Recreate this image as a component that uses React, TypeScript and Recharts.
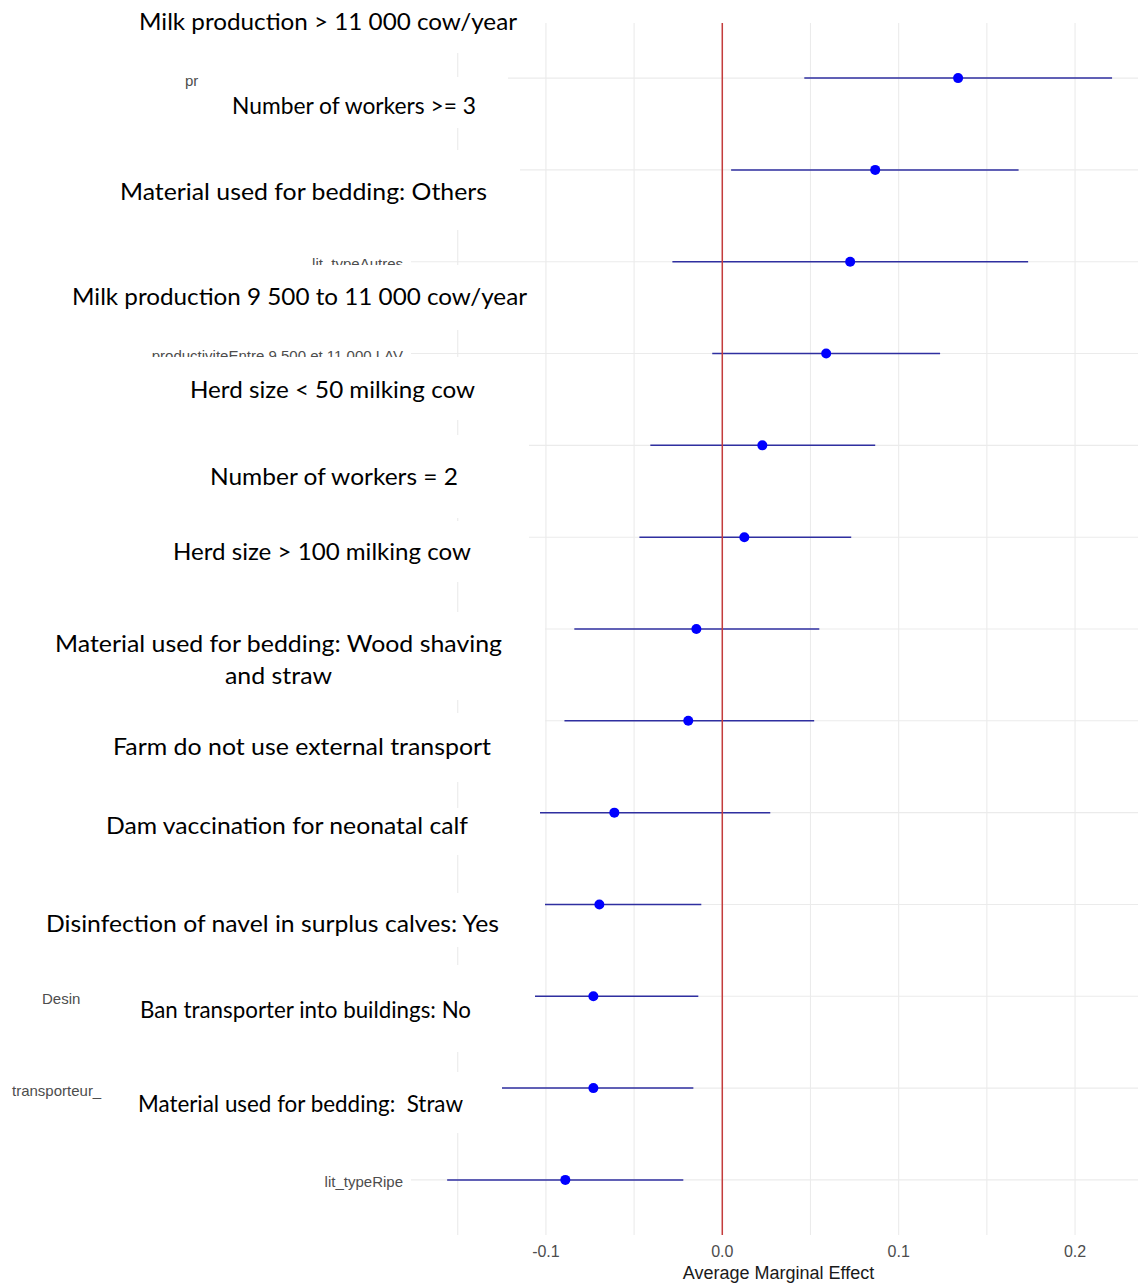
import React from 'react';
import { ScatterChart, Scatter, XAxis, YAxis, CartesianGrid, ReferenceLine, ErrorBar, Label } from 'recharts';

// ---- data ----
const labels = [
  'Milk production > 11 000 cow/year',
  'Number of workers >= 3',
  'Material used for bedding: Others',
  'Milk production 9 500 to 11 000 cow/year',
  'Herd size < 50 milking cow',
  'Number of workers = 2',
  'Herd size > 100 milking cow',
  'Material used for bedding: Wood shaving\nand straw',
  'Farm do not use external transport',
  'Dam vaccination for neonatal calf',
  'Disinfection of navel in surplus calves: Yes',
  'Ban transporter into buildings: No',
  'Material used for bedding:  Straw',
];
const estimates = [0.1337, 0.0867, 0.0725, 0.0589, 0.0227, 0.0125, -0.0147, -0.0193, -0.0612, -0.0697, -0.0731, -0.0731, -0.089];
const lower = [0.0465, 0.005, -0.0283, -0.0057, -0.0408, -0.047, -0.0839, -0.0895, -0.106, -0.1014, -0.1093, -0.128, -0.156];
const upper = [0.221, 0.168, 0.1734, 0.1235, 0.0867, 0.0731, 0.055, 0.0521, 0.0272, -0.0119, -0.0136, -0.0164, -0.0221];
// visible fragments of the original (covered) axis labels
const axisFragments = ['pr', '', 'lit_typeAutres', 'productiviteEntre 9 500 et 11 000 LAV', '', '', '', '', '', '', 'Desin', 'transporteur_', 'lit_typeRipe'];
const xTicks = [-0.15, -0.1, -0.05, 0, 0.05, 0.1, 0.15, 0.2];
const xTickLabels = ['', '-0.1', '', '0.0', '', '0.1', '', '0.2'];
const rowIndex = labels.map((_, i) => i + 1);

const data = labels.map((label, i) => ({
  row: rowIndex[i],
  label,
  est: estimates[i],
  err: [estimates[i] - lower[i], upper[i] - estimates[i]],
}));

// ---- layout of the pasted text boxes (annotation layer) ----
const fragmentStart: Record<number, number> = { 0: 185, 10: 42, 11: 12 };
const boxes = [
  [120, 0, 410, 53],
  [202, 77, 306, 51],
  [105, 150, 415, 80],
  [60, 265, 480, 65],
  [130, 357, 399, 63],
  [190, 435, 339, 83],
  [160, 521, 369, 61],
  [45, 612, 500, 88],
  [100, 713, 445, 69],
  [95, 808, 445, 47],
  [35, 893, 510, 54],
  [95, 965, 440, 87],
  [112, 1072, 390, 61],
];
const textPos = [
  [[139, 30, 378]],
  [[232, 114, 244]],
  [[120, 200, 367]],
  [[72, 305, 455]],
  [[190, 398, 285]],
  [[210, 485, 248]],
  [[173, 560, 298]],
  [[55, 652, 447], [225, 684, 107]],
  [[113, 755, 378]],
  [[106, 834, 362]],
  [[46, 932, 453]],
  [[140, 1018, 331]],
  [[138, 1112, 325]],
];

const GRAY = '#4d4d4d';
const AXIS_FONT = "'Liberation Sans', Arial, sans-serif";

const YTick = (props: any) => {
  const { x, y, payload } = props;
  const i = Math.round(payload.value) - 1;
  const t = axisFragments[i];
  if (!t) return null;
  const start = fragmentStart[i];
  return (
    <text
      x={start != null ? start : x}
      y={y}
      dy="0.5em"
      textAnchor={start != null ? 'start' : 'end'}
      fill={GRAY}
      fontSize={15}
      fontFamily={AXIS_FONT}
    >
      {t}
    </text>
  );
};

const XTick = (props: any) => {
  const { x, y, payload } = props;
  const idx = xTicks.findIndex((v) => Math.abs(v - payload.value) < 1e-9);
  const t = idx >= 0 ? xTickLabels[idx] : '';
  if (!t) return null;
  return (
    <text x={x} y={y} dy="0.71em" textAnchor="middle" fill={GRAY} fontSize={16} fontFamily={AXIS_FONT}>
      {t}
    </text>
  );
};

const Dot = (props: any) => {
  const { cx, cy } = props;
  if (cx == null || cy == null) return null;
  return <circle cx={cx} cy={cy} r={5} fill="#0000ff" />;
};

export default function App() {
  return (
    <div style={{ position: 'absolute', left: 0, top: 0, width: 1138, height: 1284, background: '#fff' }}>
      <ScatterChart width={1138} height={1284} margin={{ top: 23, right: 0, bottom: 0, left: 0 }}>
        <CartesianGrid stroke="#ebebeb" strokeWidth={1.1} syncWithTicks />
        <XAxis
          type="number"
          dataKey="est"
          domain={[-0.1765, 0.2357]}
          allowDataOverflow
          ticks={xTicks}
          tick={<XTick />}
          axisLine={false}
          tickLine={false}
          tickSize={6}
          tickMargin={5}
          height={49}
          interval={0}
        >
          <Label
            value="Average Marginal Effect"
            position="insideBottom"
            offset={5}
            dx={4}
            fill="#1a1a1a"
            fontSize={18}
            fontFamily={AXIS_FONT}
          />
        </XAxis>
        <YAxis
          type="number"
          dataKey="row"
          domain={[0.4, 13.6]}
          reversed
          ticks={rowIndex}
          interval={0}
          width={411}
          axisLine={false}
          tickLine={false}
          tick={<YTick />}
          tickSize={6}
          tickMargin={2}
        />
        <Scatter data={data} shape={<Dot />} isAnimationActive={false}>
          <ErrorBar dataKey="err" direction="x" width={0} stroke="#2f2fa0" strokeWidth={1.5} isAnimationActive={false} />
        </Scatter>
        <ReferenceLine x={0} stroke="#c43c3c" strokeWidth={1.5} />
      </ScatterChart>
      <svg
        width={1138}
        height={1284}
        style={{ position: 'absolute', left: 0, top: 0, pointerEvents: 'none' }}
      >
        {boxes.map((b, i) => (
          <rect key={'b' + i} x={b[0]} y={b[1]} width={b[2]} height={b[3]} fill="#ffffff" />
        ))}
        {labels.map((lab, i) =>
          lab.split('\n').map((line, j) => {
            const p = textPos[i][j];
            return (
              <text
                key={'t' + i + '-' + j}
                x={p[0]}
                y={p[1]}
                textLength={p[2]}
                lengthAdjust="spacingAndGlyphs"
                fontSize={23}
                fontFamily="Lato, 'Open Sans', sans-serif"
                fill="#000"
                style={{ whiteSpace: 'pre' }}
              >
                {line}
              </text>
            );
          })
        )}
      </svg>
    </div>
  );
}
